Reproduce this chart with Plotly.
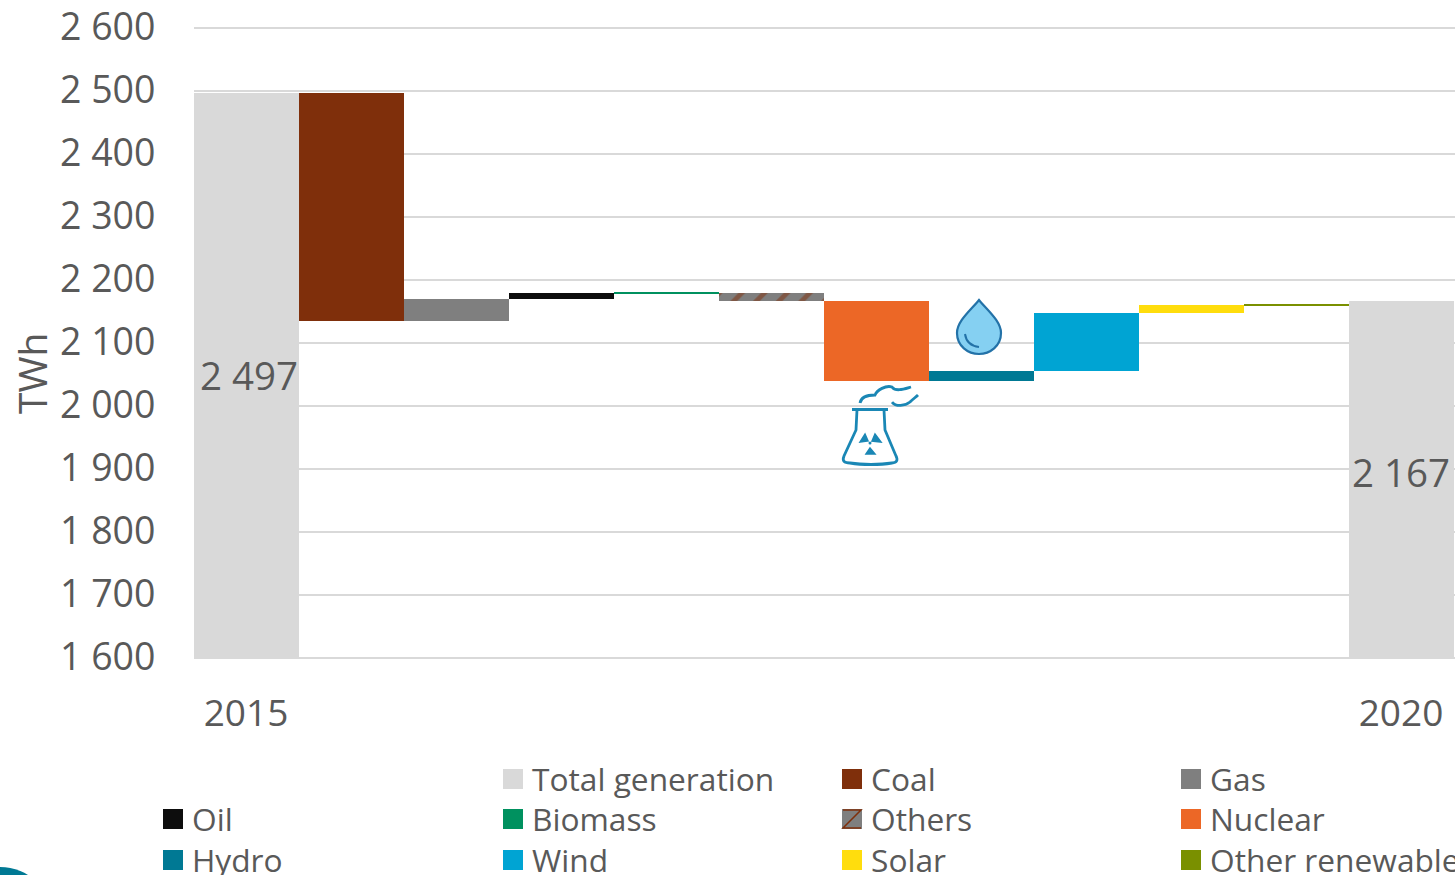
import plotly.graph_objects as go

WIDTH, HEIGHT = 1455, 875
FONT = "Open Sans"
TEXT = "#595959"
GRID = "#D9D9D9"

# The value axis starts at 1 600 TWh, so the end columns rise from there
categories = ["2015", "Coal", "Gas", "Oil", "Biomass", "Others", "Nuclear",
              "Hydro", "Wind", "Solar", "Other renewables", "2020"]
opening = [1600, 2497, 2135, 2170, 2179, 2179, 2167, 2040, 2056, 2148, 2160, 1600]
closing = [2497, 2135, 2170, 2179, 2182, 2167, 2040, 2056, 2148, 2160, 2163, 2167]
colours = ["#D9D9D9", "#7F2F0B", "#7F7F7F", "#0D0D0D", "#00915F", "#7F7F7F",
           "#EC6726", "#007994", "#00A4D3", "#FFDD0D", "#7A9000", "#D9D9D9"]

y_ticks = [1600, 1700, 1800, 1900, 2000, 2100, 2200, 2300, 2400, 2500, 2600]
x_ticks = ["2015", "2020"]

legend_names = ["Total generation", "Coal", "Gas", "Oil", "Biomass", "Others",
                "Nuclear", "Hydro", "Wind", "Solar", "Other renewables"]
legend_colours = ["#D9D9D9", "#7F2F0B", "#7F7F7F", "#0D0D0D", "#00915F", "#7F7F7F",
                  "#EC6726", "#007994", "#00A4D3", "#FFDD0D", "#7A9000"]
legend_cols = [163, 503, 842, 1181]
legend_rows = [779, 819, 860]


def spaced(value):
    return f"{value:,}".replace(",", " ")


def px(x):
    return x / WIDTH


def py(y):
    return 1 - y / HEIGHT


def path(commands):
    """Turn page-pixel path commands into paper coordinates."""
    out = []
    for cmd, *pts in commands:
        out.append(cmd + " ".join(f"{px(pts[i]):.5f},{py(pts[i + 1]):.5f}"
                                  for i in range(0, len(pts), 2)))
    return " ".join(out)


fig = go.Figure()

for name, start, end, colour in zip(categories, opening, closing, colours):
    marker = dict(color=colour, line=dict(width=0))
    if name == "Others":
        marker["pattern"] = dict(shape="/", fgcolor="#7F2F0B", bgcolor=colour,
                                 size=16, solidity=0.3)
    fig.add_trace(go.Bar(x=[name], y=[end - start], base=[start], name=name,
                         marker=marker, showlegend=False, hoverinfo="x+y"))

shapes = []
annotations = []

# Totals written on the two end columns
for cat, total, dx, dy in [("2015", closing[0], 3, 0), ("2020", closing[-1], 0, 7)]:
    annotations.append(dict(x=categories.index(cat), y=(1600 + total) / 2, xref="x", yref="y",
                            text=spaced(total), showarrow=False, xshift=dx, yshift=dy,
                            xanchor="center", yanchor="middle",
                            font=dict(family=FONT, size=38.5, color=TEXT)))

annotations.append(dict(x=px(31), y=py(374), xref="paper", yref="paper", text="TWh",
                        textangle=-90, showarrow=False,
                        xanchor="center", yanchor="middle",
                        font=dict(family=FONT, size=39, color=TEXT)))

# Hand-built legend: three rows on four columns, first cell left empty
for i, (name, colour) in enumerate(zip(legend_names, legend_colours)):
    cell = i + 1
    x0 = legend_cols[cell % 4]
    yc = legend_rows[cell // 4]
    shapes.append(dict(type="rect", xref="paper", yref="paper", layer="above",
                       x0=px(x0), x1=px(x0 + 20), y0=py(yc - 10), y1=py(yc + 10),
                       fillcolor=colour, line=dict(width=0)))
    if name == "Others":
        shapes.append(dict(type="path", xref="paper", yref="paper", layer="above",
                           path=path([("M", x0 + 1, yc - 9), ("L", x0 + 19, yc - 9),
                                      ("L", x0 + 1, yc + 9), ("L", x0 + 19, yc + 9)]),
                           line=dict(color="#7F2F0B", width=1.5)))
    annotations.append(dict(x=px(x0 + 26.5), y=py(yc - 1), xref="paper", yref="paper",
                            xanchor="left", yanchor="middle", text=name, showarrow=False,
                            font=dict(family=FONT, size=31.7, color=TEXT)))

# Water drop beside the hydro step
shapes.append(dict(type="path", xref="paper", yref="paper", layer="above",
                   path=path([("M", 979, 300), ("C", 971, 310, 957, 321, 957, 333),
                              ("C", 957, 346, 968, 354, 979, 354),
                              ("C", 990, 354, 1001, 346, 1001, 333),
                              ("C", 1001, 321, 987, 310, 979, 300), ("Z",)]),
                   fillcolor="#85D0F2", line=dict(color="#2372A8", width=2.2)))
shapes.append(dict(type="path", xref="paper", yref="paper", layer="above",
                   path=path([("M", 965, 334), ("C", 966, 341, 971, 346, 979, 347)]),
                   line=dict(color="#2372A8", width=2)))

# Cooling tower below the nuclear step
ICON = "#1A87B5"
icon_lines = [
    [("M", 852, 409.5), ("L", 888, 409.5)],
    [("M", 857, 410), ("L", 856, 430), ("L", 844, 456),
     ("C", 842, 461, 844, 463, 850, 463), ("C", 862, 465, 880, 465, 892, 463),
     ("C", 897, 463, 898, 460, 896, 456), ("L", 885, 430), ("L", 884, 410)],
    [("M", 860, 403), ("C", 861, 397, 868, 395, 875, 395),
     ("C", 877, 390, 886, 385, 892, 387), ("C", 896, 392, 904, 389, 911, 387)],
    [("M", 892, 402), ("C", 896, 407, 905, 406, 910, 402), ("C", 913, 399, 916, 397, 918, 395)],
]
for line in icon_lines:
    shapes.append(dict(type="path", xref="paper", yref="paper", layer="above",
                       path=path(line), line=dict(color=ICON, width=2.8)))
for blade in [[("M", 865, 434), ("L", 868, 441), ("L", 860, 442), ("Z",)],
              [("M", 875, 434), ("L", 872, 441), ("L", 881, 442), ("Z",)],
              [("M", 866, 454), ("L", 870, 448), ("L", 875, 454), ("Z",)]]:
    shapes.append(dict(type="path", xref="paper", yref="paper", layer="above",
                       path=path(blade), fillcolor=ICON, line=dict(color=ICON, width=1.5)))
shapes.append(dict(type="circle", xref="paper", yref="paper", layer="above",
                   x0=px(868.5), x1=px(871.5), y0=py(441.5), y1=py(444.5),
                   fillcolor=ICON, line=dict(width=0)))

# Corner of the publisher's logo at the bottom edge
shapes.append(dict(type="circle", xref="paper", yref="paper", layer="above",
                   x0=px(-53), x1=px(53), y0=py(867), y1=py(973),
                   fillcolor="#007994", line=dict(width=0)))

# A sliver of range beyond 1 600 and 2 600 keeps those two gridlines drawn
fig.update_layout(
    width=WIDTH, height=HEIGHT,
    margin=dict(l=0, r=0, t=0, b=0, autoexpand=False),
    paper_bgcolor="white", plot_bgcolor="white",
    barmode="overlay", bargap=0,
    showlegend=False,
    font=dict(family=FONT, color=TEXT),
    shapes=shapes, annotations=annotations,
    xaxis=dict(domain=[px(193.5), px(1455)], type="category",
               categoryorder="array", categoryarray=categories,
               range=[-0.5, 11.514],
               tickmode="array", tickvals=x_ticks, ticktext=x_ticks,
               tickfont=dict(family=FONT, size=37, color=TEXT),
               showgrid=False, zeroline=False, ticks="", ticklabelstandoff=29,
               showline=False),
    yaxis=dict(domain=[py(659.26), py(26.74)], range=[1598, 2602],
               tickmode="array", tickvals=y_ticks, ticktext=[spaced(v) for v in y_ticks],
               tickfont=dict(family=FONT, size=37.5, color=TEXT),
               showgrid=True, gridcolor=GRID, gridwidth=2, zeroline=False,
               ticks="", ticklabelstandoff=37, ticklabelshift=-1, showline=False),
)

fig.write_html("out.html", config=dict(displayModeBar=False))
